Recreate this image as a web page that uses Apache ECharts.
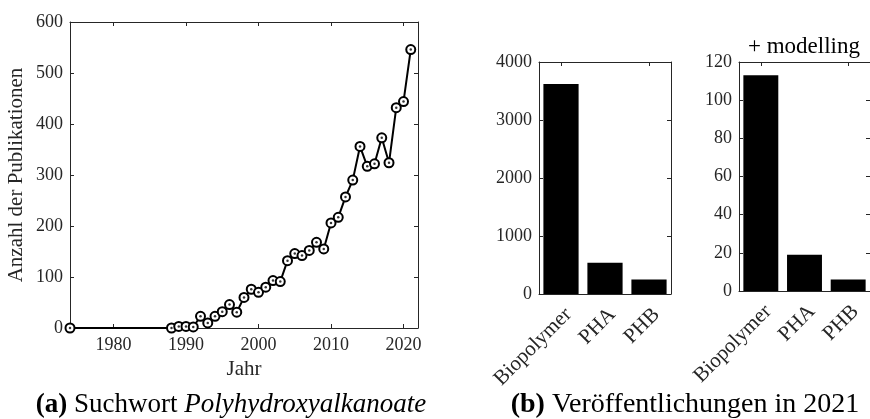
<!DOCTYPE html>
<html>
<head>
<meta charset="utf-8">
<script src="https://cdn.jsdelivr.net/npm/echarts@6/dist/echarts.min.js"></script>
<style>
html,body{margin:0;padding:0;background:#fff;}
#chart{width:870px;height:419px;}
</style>
</head>
<body>
<div id="chart"></div>
<script>
// ---- data ----
var years = [1974, 1988, 1989, 1990, 1991, 1992, 1993, 1994, 1995, 1996, 1997, 1998, 1999, 2000, 2001, 2002, 2003, 2004, 2005, 2006, 2007, 2008, 2009, 2010, 2011, 2012, 2013, 2014, 2015, 2016, 2017, 2018, 2019, 2020, 2021];
var publications = [0, 0, 3, 3, 2, 23, 10, 23, 32, 46, 31, 60, 76, 70, 80, 93, 91, 132, 146, 142, 152, 168, 155, 206, 217, 257, 290, 356, 317, 322, 373, 324, 432, 444, 546];
var categories = ['Biopolymer', 'PHA', 'PHB'];
var pubs2021 = [3620, 540, 250];
var pubs2021Modelling = [113, 19, 6];
var yearTicks = [1980, 1990, 2000, 2010, 2020];

var FONT = 'Liberation Serif';
var FONTQ = '"Liberation Serif", serif';
var AX = '#262626';
var lineXY = years.map(function (y, i) { return [y, publications[i]]; });

function boxAxis(extra) {
  var base = {
    axisLine: { show: true, onZero: false, lineStyle: { color: AX, width: 1 } },
    axisTick: { show: true, inside: true, length: 4, lineStyle: { color: AX } },
    axisLabel: { show: false },
    splitLine: { show: false }
  };
  return Object.assign(base, extra);
}
function labelStyle(size) {
  return { color: AX, fontFamily: FONT, fontSize: size };
}
function plain(v) { return String(v); }
var catTick = { show: true, inside: true, alignWithLabel: true, length: 4, lineStyle: { color: AX } };

var chart = echarts.init(document.getElementById('chart'), null, { renderer: 'canvas' });
var option = {
  animation: false,
  backgroundColor: '#fff',
  grid: [
    { left: 70, top: 22, width: 348, height: 306 },
    { left: 539, top: 62, width: 132, height: 232 },
    { left: 739, top: 62, width: 133, height: 229 }
  ],
  xAxis: [
    boxAxis({ gridIndex: 0, type: 'value', min: 1974, max: 2022, position: 'bottom',
      axisLabel: Object.assign({ show: true, margin: 8, formatter: function (v) { return yearTicks.indexOf(v) >= 0 ? String(v) : ''; } }, labelStyle(18)),
      name: 'Jahr', nameLocation: 'middle', nameGap: 31, nameTextStyle: labelStyle(21) }),
    boxAxis({ gridIndex: 0, type: 'value', min: 1974, max: 2022, position: 'top' }),
    boxAxis({ gridIndex: 1, type: 'category', data: categories, position: 'bottom', axisTick: catTick,
      axisLabel: Object.assign({ show: true, rotate: 45, margin: 10, interval: 0, verticalAlign: 'top' }, labelStyle(21)) }),
    boxAxis({ gridIndex: 1, type: 'category', data: categories, position: 'top', axisTick: catTick }),
    boxAxis({ gridIndex: 2, type: 'category', data: categories, position: 'bottom', axisTick: catTick,
      axisLabel: Object.assign({ show: true, rotate: 45, margin: 10, interval: 0, verticalAlign: 'top' }, labelStyle(21)) }),
    boxAxis({ gridIndex: 2, type: 'category', data: categories, position: 'top', axisTick: catTick })
  ],
  yAxis: [
    boxAxis({ gridIndex: 0, type: 'value', min: 0, max: 600, interval: 100, position: 'left',
      axisLabel: Object.assign({ show: true, margin: 7, formatter: plain }, labelStyle(18)),
      name: 'Anzahl der Publikationen', nameLocation: 'middle', nameGap: 43, nameTextStyle: labelStyle(21) }),
    boxAxis({ gridIndex: 0, type: 'value', min: 0, max: 600, interval: 100, position: 'right' }),
    boxAxis({ gridIndex: 1, type: 'value', min: 0, max: 4000, interval: 1000, position: 'left',
      axisLabel: Object.assign({ show: true, margin: 7, formatter: plain }, labelStyle(18)) }),
    boxAxis({ gridIndex: 1, type: 'value', min: 0, max: 4000, interval: 1000, position: 'right' }),
    boxAxis({ gridIndex: 2, type: 'value', min: 0, max: 120, interval: 20, position: 'left',
      axisLabel: Object.assign({ show: true, margin: 7, formatter: plain }, labelStyle(18)) }),
    boxAxis({ gridIndex: 2, type: 'value', min: 0, max: 120, interval: 20, position: 'right' })
  ],
  series: [
    { type: 'line', xAxisIndex: 0, yAxisIndex: 0, data: lineXY,
      symbol: 'emptyCircle', symbolSize: 9,
      lineStyle: { color: '#000', width: 2 },
      itemStyle: { color: '#000', borderColor: '#000', borderWidth: 2 }, z: 3 },
    { type: 'scatter', xAxisIndex: 0, yAxisIndex: 0, data: lineXY,
      symbol: 'circle', symbolSize: 2.5, itemStyle: { color: '#000' }, z: 4 },
    { type: 'bar', xAxisIndex: 2, yAxisIndex: 2, data: pubs2021, barWidth: '80%',
      itemStyle: { color: '#000' } },
    { type: 'bar', xAxisIndex: 4, yAxisIndex: 4, data: pubs2021Modelling, barWidth: '80%',
      itemStyle: { color: '#000' } }
  ],
  graphic: [
    { type: 'text', x: 804, y: 47, style: { text: '+ modelling', font: '23px ' + FONTQ, fill: '#000', align: 'center', verticalAlign: 'middle' } },
    { type: 'text', x: 231, y: 405, style: {
        text: '{b|(a)}{n| Suchwort }{i|Polyhydroxyalkanoate}', font: '27px ' + FONTQ, fill: '#000',
        align: 'center', verticalAlign: 'middle',
        rich: { b: { font: 'bold 27px ' + FONTQ, fill: '#000' },
                n: { font: '27px ' + FONTQ, fill: '#000' },
                i: { font: 'italic 27px ' + FONTQ, fill: '#000' } } } },
    { type: 'text', x: 685, y: 405, style: {
        text: '{b|(b)}{n| Veröffentlichungen in 2021}', font: '28px ' + FONTQ, fill: '#000',
        align: 'center', verticalAlign: 'middle',
        rich: { b: { font: 'bold 28px ' + FONTQ, fill: '#000' },
                n: { font: '28px ' + FONTQ, fill: '#000' } } } }
  ]
};
chart.setOption(option);
</script>
</body>
</html>
